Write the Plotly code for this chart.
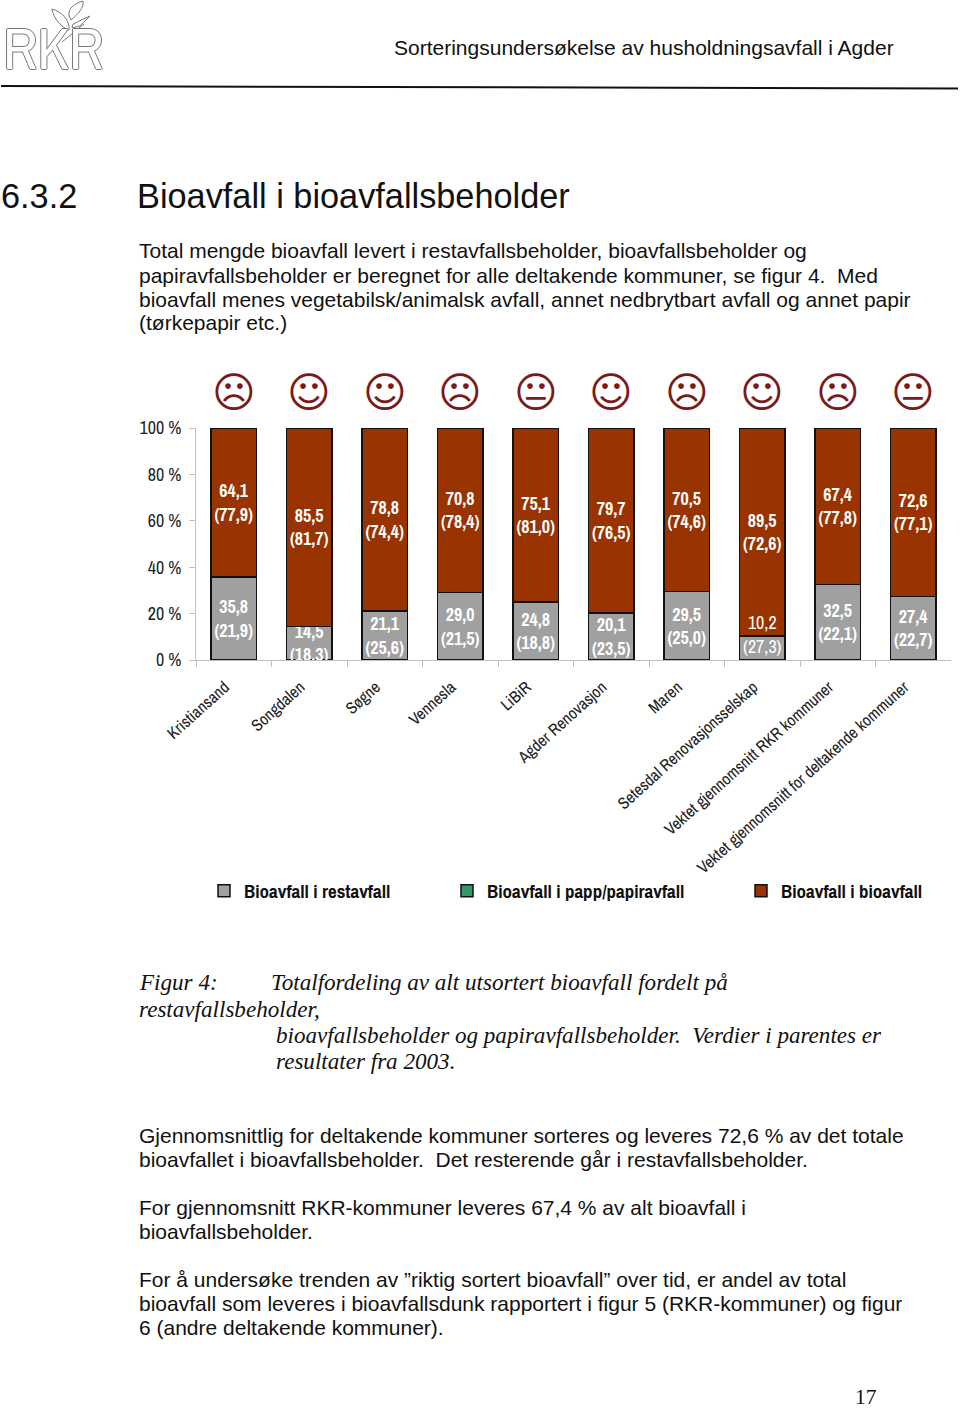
import plotly.graph_objects as go

W, H = 960, 1408

categories = ["Kristiansand", "Songdalen", "Søgne", "Vennesla", "LiBiR", "Agder Renovasjon", "Maren",
              "Setesdal Renovasjonsselskap", "Vektet gjennomsnitt RKR kommuner",
              "Vektet gjennomsnitt for deltakende kommuner"]
rest_2004 = [35.8, 14.5, 21.1, 29.0, 24.8, 20.1, 29.5, 10.2, 32.5, 27.4]
papp_2004 = [0.1, 0.0, 0.1, 0.2, 0.1, 0.2, 0.0, 0.3, 0.1, 0.0]
bio_2004 = [64.1, 85.5, 78.8, 70.8, 75.1, 79.7, 70.5, 89.5, 67.4, 72.6]
rest_2003 = ["21,9", "18,3", "25,6", "21,5", "18,8", "23,5", "25,0", "27,3", "22,1", "22,7"]
bio_2003 = ["77,9", "81,7", "74,4", "78,4", "81,0", "76,5", "74,6", "72,6", "77,8", "77,1"]
moods = ["sad", "happy", "happy", "sad", "neutral", "happy", "sad", "happy", "sad", "neutral"]
y_ticks = [0, 20, 40, 60, 80, 100]
y_tick_labels = ["0 %", "20 %", "40 %", "60 %", "80 %", "100 %"]

GLYPH = {"sad": "\u2639", "happy": "\u263A", "neutral": "\U0001F610"}
NARROW = "Archivo Narrow, Roboto Condensed, Liberation Sans, sans-serif"
SANS = "Liberation Sans, Arial, sans-serif"
SERIF = "Liberation Serif, Times New Roman, serif"
GREY, GREEN, BROWN = "#a0a0a0", "#339966", "#993300"


def fmt(v):
    return f"{v:.1f}".replace(".", ",")


SPLIT = 7
rest_text = [f"{fmt(v)}<br>({p})" if i != SPLIT else "" for i, (v, p) in enumerate(zip(rest_2004, rest_2003))]
bio_text = [f"{fmt(v)}<br>({p})" for v, p in zip(bio_2004, bio_2003)]
label_font = dict(family=NARROW, size=18, color="white", weight=700)


def bar(name, vals, color, legend, text=None):
    return go.Bar(name=name, x=categories, y=vals, marker=dict(color=color, line=dict(color="#111111", width=1.5)),
                  legend=legend, text=text, textposition="inside" if text else "none",
                  insidetextanchor="middle", textangle=0, constraintext="none",
                  insidetextfont=label_font, cliponaxis=True, hoverinfo="skip")


fig = go.Figure()
fig.add_trace(bar("Bioavfall i restavfall", rest_2004, GREY, "legend", rest_text))
fig.add_trace(bar("Bioavfall i papp/papiravfall", papp_2004, GREEN, "legend2"))
fig.add_trace(bar("Bioavfall i bioavfall", bio_2004, BROWN, "legend3", bio_text))
fig.add_trace(go.Scatter(x=[categories[SPLIT]], y=[rest_2004[SPLIT]], mode="text",
                         text=[f"{fmt(rest_2004[SPLIT])}<br>({rest_2003[SPLIT]})"],
                         textposition="middle center", textfont=dict(family=NARROW, size=18, color="white"),
                         showlegend=False, hoverinfo="skip"))


def px(x):
    return x / W


def py(y):
    return 1 - y / H


annotations = []


def txt(x, y, s, size, family=SANS, color="#111111", **kw):
    annotations.append(dict(xref="paper", yref="paper", x=px(x - 2), y=py(y), text=s, showarrow=False, xanchor="left",
                            yanchor="middle", align="left", font=dict(family=family, size=size, color=color), **kw))


BODY = 21
txt(394, 48, "Sorteringsundersøkelse av husholdningsavfall i Agder", BODY)
txt(1, 196, "6.3.2", 34.3)
txt(137, 196, "Bioavfall i bioavfallsbeholder", 34.3)
for i, line in enumerate([
    "Total mengde bioavfall levert i restavfallsbeholder, bioavfallsbeholder og",
    "papiravfallsbeholder er beregnet for alle deltakende kommuner, se figur 4.  Med",
    "bioavfall menes vegetabilsk/animalsk avfall, annet nedbrytbart avfall og annet papir",
    "(tørkepapir etc.)",
]):
    txt(139, 251 + i * 24, line, BODY)
txt(139, 982, "<i>Figur 4:</i>", 23.1, SERIF)
txt(271, 982, "<i>Totalfordeling av alt utsortert bioavfall fordelt på</i>", 23.1, SERIF)
txt(139, 1009, "<i>restavfallsbeholder,</i>", 23.1, SERIF)
txt(276, 1035, "<i>bioavfallsbeholder og papiravfallsbeholder.  Verdier i parentes er</i>", 23.1, SERIF)
txt(276, 1061, "<i>resultater fra 2003.</i>", 23.1, SERIF)
for y, line in [
    (1135, "Gjennomsnittlig for deltakende kommuner sorteres og leveres 72,6 % av det totale"),
    (1159, "bioavfallet i bioavfallsbeholder.  Det resterende går i restavfallsbeholder."),
    (1207, "For gjennomsnitt RKR-kommuner leveres 67,4 % av alt bioavfall i"),
    (1231, "bioavfallsbeholder."),
    (1279, "For å undersøke trenden av ”riktig sortert bioavfall” over tid, er andel av total"),
    (1303, "bioavfall som leveres i bioavfallsdunk rapportert i figur 5 (RKR-kommuner) og figur"),
    (1327, "6 (andre deltakende kommuner)."),
]:
    txt(139, y, line, BODY)
txt(855, 1396.5, "17", 21.5, SERIF)

annotations.append(dict(xref="paper", yref="paper", x=px(1), y=py(48), text="RKR", showarrow=False, xanchor="left",
                        yanchor="middle", font=dict(family=NARROW, size=58, color="white",
                        shadow="1px 0 #777, -1px 0 #777, 0 1px #777, 0 -1px #777")))

for c, m in zip(categories, moods):
    annotations.append(dict(xref="x", yref="paper", x=c, y=py(393), text=GLYPH[m], showarrow=False, xanchor="center",
                            yanchor="middle", font=dict(family="DejaVu Sans", size=42, color="#7a1a1a")))

LOGO = dict(line=dict(color="#777777", width=1), fillcolor="white", xref="paper", yref="paper", type="path")
shapes = [
    dict(type="line", xref="paper", yref="paper", x0=px(1), x1=px(958), y0=py(86), y1=py(88.5),
         line=dict(color="#111111", width=2)),
    dict(type="line", xref="paper", yref="paper", x0=px(62), x1=px(84), y0=py(42), y1=py(24),
         line=dict(color="#777777", width=1)),
    dict(path=f"M {px(69)} {py(30)} C {px(62)} {py(28)} {px(53)} {py(18)} {px(52)} {py(9)} C {px(62)} {py(12)} {px(70)} {py(20)} {px(69)} {py(30)} Z", **LOGO),
    dict(path=f"M {px(69)} {py(16)} C {px(68)} {py(8)} {px(74)} {py(4)} {px(83)} {py(1)} C {px(84)} {py(8)} {px(78)} {py(14)} {px(71)} {py(20)} Z", **LOGO),
    dict(path=f"M {px(73)} {py(24)} L {px(90)} {py(16)} L {px(80)} {py(26)} L {px(72)} {py(28)} Z", **LOGO),
]

legend_common = dict(orientation="h", xanchor="left", yanchor="middle", bgcolor="rgba(0,0,0,0)", borderwidth=0,
                     font=dict(family=NARROW, size=19, color="#111111", weight=700), itemclick=False, itemdoubleclick=False)

fig.update_layout(
    width=W, height=H, margin=dict(l=0, r=0, t=0, b=0, autoexpand=False), paper_bgcolor="white", plot_bgcolor="white",
    barmode="stack", bargap=0.4, annotations=annotations, shapes=shapes, font=dict(family=NARROW),
    xaxis=dict(domain=[px(196), px(951)], type="category", categoryorder="array", categoryarray=categories,
               range=[-0.5, 9.5], tickson="boundaries", ticks="outside", ticklen=6, tickcolor="#c0c0c0",
               showline=True, linecolor="#c0c0c0", linewidth=1, showgrid=False, tickangle=-42,
               ticklabelstandoff=10, ticklabelshift=-9,
               tickfont=dict(family=NARROW, size=16.6, color="#222222")),
    yaxis=dict(domain=[py(660), py(428)], range=[0, 100], tickvals=y_ticks, ticktext=y_tick_labels, ticks="outside",
               ticklen=6, tickcolor="#c0c0c0", showline=True, linecolor="#c0c0c0", linewidth=1, showgrid=False,
               ticklabelstandoff=4, zeroline=False, tickfont=dict(family=NARROW, size=18, color="#222222")),
    legend=dict(x=px(204), y=py(891), **legend_common),
    legend2=dict(x=px(447), y=py(891), **legend_common),
    legend3=dict(x=px(741), y=py(891), **legend_common),
)

fig.write_html("out.html", config={"displayModeBar": False},
               post_script="document.body.style.margin='0';document.body.style.overflow='hidden';")
